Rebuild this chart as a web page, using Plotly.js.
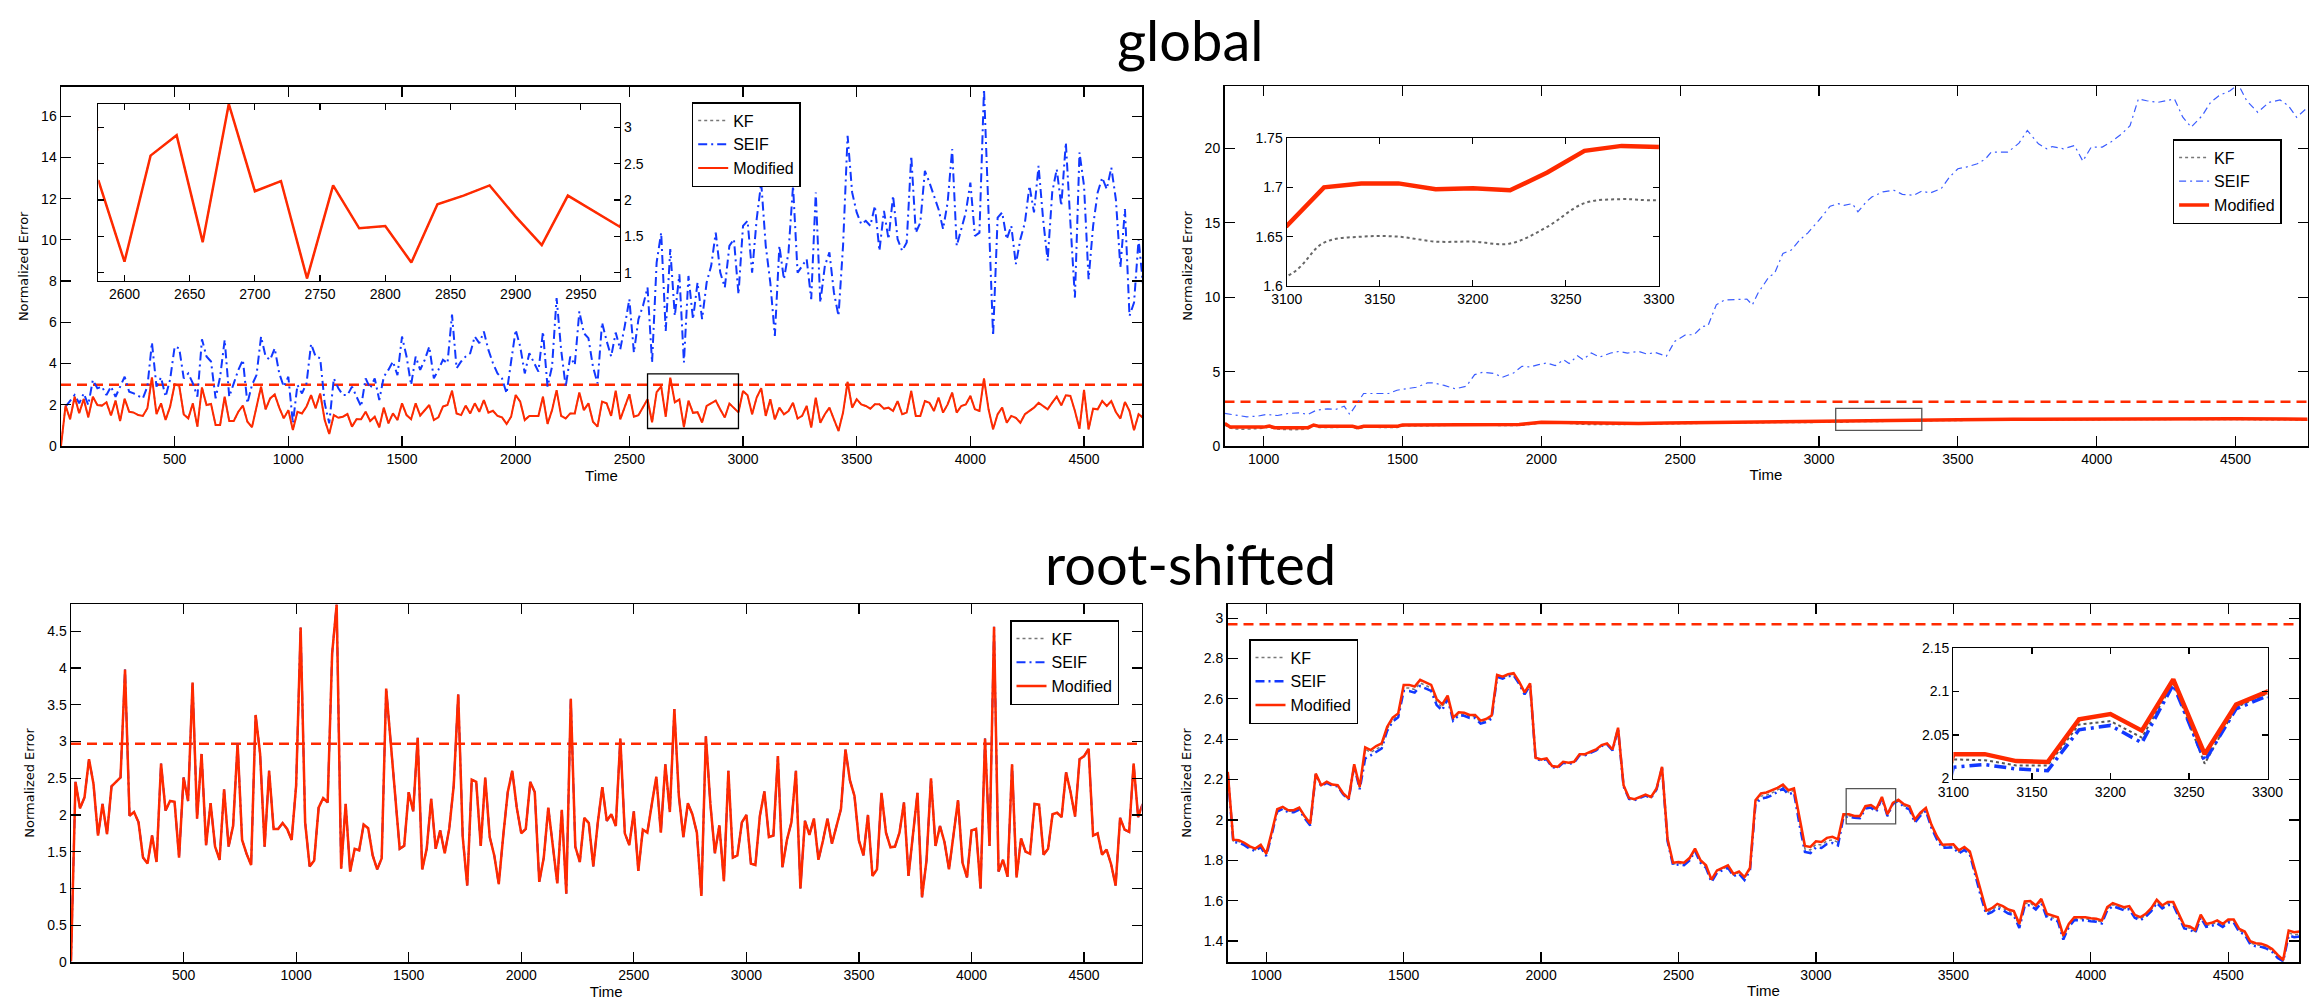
<!DOCTYPE html>
<html>
<head>
<meta charset="utf-8">
<script src="https://cdn.plot.ly/plotly-3.0.1.min.js"></script>
<style>
html,body{margin:0;padding:0;background:#fff;}
#chart{width:2322px;height:1001px;}
</style>
</head>
<body>
<div id="chart"></div>
<script>
// ---------------- DATA ----------------
const seriesNames = ['KF', 'SEIF', 'Modified'];
const sectionTitles = ['global', 'root-shifted'];
const threshold = 2.97;

// Panel 1: global, Time 0..4760 every 20 (null = not readable)
const mod1 = [
0,1.96,1.30,2.39,1.59,2.28,1.39,2.39,1.99,1.96,
2.12,1.48,2.20,1.21,2.29,1.66,1.62,1.50,1.46,1.83,
3.33,1.55,2.07,1.26,1.91,2.99,2.92,1.53,1.34,2.07,
0.94,2.84,1.99,2.04,1.02,1.02,2.39,1.21,1.21,1.66,
1.96,1.18,0.91,1.91,2.88,1.78,2.31,2.50,1.86,1.34,
1.74,0.78,1.66,1.58,1.91,2.47,1.83,2.55,1.26,0.58,
1.50,1.37,1.42,1.55,0.94,1.30,1.30,1.66,1.21,1.42,
0.91,1.86,1.10,1.58,1.26,2.07,1.50,1.30,2.07,1.48,
1.71,1.99,1.26,1.39,1.91,1.99,2.68,1.58,1.50,1.96,
1.58,2.07,1.66,2.23,1.62,1.71,1.46,1.39,1.07,1.42,
2.47,2.15,1.26,1.46,1.46,1.46,2.39,1.07,1.74,2.71,
1.46,1.34,1.58,1.58,2.60,1.74,2.07,1.18,0.94,2.15,
2.07,1.46,2.68,
1.29,null,2.51,1.42,1.49,1.86,2.27,1.15,2.61,2.89,
1.42,3.32,2.12,2.26,0.92,2.20,1.61,1.64,1.14,1.94,
2.06,2.20,1.77,1.38,2.06,1.85,1.63,2.67,2.46,1.54,
2.35,2.80,1.46,2.27,1.29,1.86,1.54,1.70,2.10,1.33,
1.46,1.94,0.89,2.35,1.13,1.54,1.86,1.29,0.73,1.62,
3.11,1.86,2.27,2.02,1.94,1.81,2.02,2.02,1.81,1.86,
1.70,2.18,1.54,1.62,2.67,1.46,1.46,2.18,2.10,1.70,
2.35,1.62,2.02,2.59,1.62,1.94,2.02,2.43,1.78,1.70,
3.28,1.78,0.81,1.54,1.86,1.13,1.46,1.37,1.13,1.54,
1.70,1.86,2.10,1.94,1.78,2.10,2.39,1.97,2.46,2.43,
1.70,0.84,2.72,0.81,1.81,1.78,2.18,1.94,2.18,1.65,
1.33,2.14,1.70,0.76,1.54,1.37];
const kf1 = mod1; // KF coincides with Modified at this scale
// SEIF, Time 20..4760 every 20
const seif1 = [
1.91,null,2.47,2.07,2.55,1.99,3.20,2.80,2.88,2.47,
2.88,2.39,2.88,3.36,2.63,2.55,null,2.31,2.88,5.02,
2.88,3.33,2.39,3.23,4.82,4.74,3.28,3.52,3.04,2.39,
5.18,4.34,4.10,2.31,3.36,5.15,2.39,3.04,3.69,4.18,
2.07,2.96,3.44,5.31,4.34,4.18,4.74,3.52,2.88,3.36,
1.10,2.96,2.55,3.04,4.95,4.34,4.26,2.07,1.10,3.28,
2.80,2.47,2.47,2.88,2.39,1.91,3.28,2.80,3.28,2.23,
3.36,3.69,4.10,3.44,5.31,4.34,2.96,4.34,3.69,4.18,
4.82,3.28,3.69,4.18,4.02,6.37,3.77,4.10,4.34,4.50,
5.31,4.99,5.55,4.66,4.02,3.52,3.28,2.55,4.10,5.63,
4.82,3.52,4.50,4.02,3.61,5.55,2.88,3.85,7.18,4.66,
2.88,4.34,3.93,6.53,5.47,5.23,3.85,3.04,5.99,5.10,
4.34,5.50,
4.69,5.83,7.12,4.53,6.15,6.80,7.69,4.05,8.90,10.35,
5.58,9.55,6.31,8.33,4.05,8.25,6.15,7.93,6.15,7.93,
8.74,10.35,8.41,7.69,9.71,10.03,7.36,10.68,10.92,8.41,
11.00,12.78,9.71,7.93,5.34,9.71,8.09,9.39,12.62,8.41,
8.74,9.06,7.12,12.30,6.96,8.74,9.39,7.44,6.31,9.71,
15.05,12.30,11.33,10.76,10.92,10.68,11.65,9.47,11.41,10.03,
12.14,10.03,9.47,9.87,14.08,10.35,10.84,13.35,12.78,12.14,
11.49,10.52,11.81,14.40,9.71,10.52,11.33,12.78,10.19,10.35,
17.31,11.33,5.34,11.08,11.33,10.03,10.68,8.82,10.03,10.84,
12.62,11.33,13.59,11.00,8.98,12.30,13.43,11.65,14.72,10.84,
7.20,14.24,12.62,8.09,10.68,12.30,13.02,12.46,13.51,11.97,
8.66,11.49,6.31,6.96,10.03,7.77];

// Panel 2: global (right)
const mod2T = [860,880,1000,1020,1040,1160,1180,1200,1320,1340,1360,1480,1500,1600,1750,1920,2000,2100,2150,2350,2450,2600,2800,3000,
  3100,3120,3140,3160,3180,3200,3220,3240,3260,3280,3300,3500,3700,3900,4100,4300,4500,4760];
const mod2 = [1.52,1.27,1.27,1.34,1.23,1.23,1.41,1.32,1.32,1.23,1.32,1.32,1.41,1.43,1.47,1.45,1.60,1.58,1.52,1.52,1.54,1.58,1.62,1.64,
  1.661,1.700,1.704,1.704,1.698,1.699,1.697,1.715,1.737,1.742,1.741,1.77,1.79,1.81,1.83,1.84,1.83,1.80];
const kf2 = [1.45,1.20,1.20,1.27,1.16,1.16,1.34,1.25,1.25,1.16,1.25,1.25,1.34,1.37,1.41,1.39,1.53,1.52,1.46,1.46,1.49,1.53,1.57,1.59,
  1.610,1.644,1.650,1.650,1.645,1.645,1.643,1.660,1.684,1.688,1.687,1.72,1.74,1.76,1.78,1.79,1.78,1.75];
const seif2T = [860,900,940,980,1010,1050,1090,1130,1160,1190,1230,1260,1290,1310,1340,1360,1400,1450,1480,1510,
  1550,1590,1610,1650,1690,1730,1760,1790,1830,1860,1900,1930,1960,1990,2020,2050,2080,2100,2130,2150,
  2180,2210,2250,2280,2310,2350,2380,2410,2450,2480,2520,2550,2580,2600,2630,2660,2700,2740,2760,2780,
  2820,2840,2870,2900,2930,2960,3000,3040,3070,3090,3120,3140,3170,3190,3230,3270,3300,3340,3370,3400,
  3440,3470,3500,3530,3570,3600,3620,3650,3680,3720,3750,3790,3820,3840,3880,3920,3950,3980,4020,4050,
  4090,4120,4150,4180,4220,4250,4280,4310,4340,4380,4410,4440,4480,4510,4540,4580,4620,4660,4690,4720,4760];
const seif2 = [2.19,2.05,1.96,2.01,2.12,2.05,2.19,2.23,2.12,2.41,2.50,2.46,2.68,2.12,3.01,3.53,3.53,3.53,3.75,3.84,
  3.95,4.24,4.24,4.08,3.84,4.02,4.80,4.96,4.87,4.62,4.91,5.36,5.31,5.47,5.58,5.40,5.80,5.54,6.07,5.80,
  6.25,5.98,6.25,6.36,6.25,6.36,6.18,6.29,6.03,7.03,7.48,7.48,8.04,8.08,9.49,9.82,9.87,9.87,9.49,10.27,
  11.38,11.61,12.95,13.17,13.84,14.33,15.18,16.12,16.29,16.18,16.29,15.74,16.41,16.74,17.08,17.19,16.92,16.85,17.14,17.01,
  17.30,18.08,18.64,18.75,18.97,19.31,19.75,19.75,19.75,20.36,21.21,20.31,19.98,20.13,19.98,20.20,19.15,20.09,20.09,20.42,
  20.98,21.54,23.33,23.21,23.10,23.21,23.33,22.10,21.43,22.21,23.10,23.55,23.88,24.30,23.21,22.43,23.10,23.26,22.88,22.10,22.77];

// Panel 3: root-shifted, Time 0..4760 every 20
const mod3 = [
0.01,2.45,2.09,2.24,2.76,2.42,1.72,2.15,1.74,2.39,
2.45,2.51,3.98,1.99,2.04,1.90,1.42,1.34,1.72,1.36,
2.70,2.06,2.19,2.18,1.42,2.51,2.19,3.80,1.95,2.83,
1.59,2.16,1.57,1.39,2.35,1.57,1.85,2.97,1.66,1.47,
1.32,3.36,2.83,1.57,2.60,1.81,1.81,1.89,1.81,1.66,
2.40,4.55,1.90,1.30,1.38,2.10,2.23,2.17,4.20,4.86,
1.27,2.15,1.23,1.54,1.52,1.87,1.82,1.45,1.26,1.41,
3.72,2.95,2.24,1.54,1.58,2.31,2.05,3.05,1.26,1.54,
2.22,1.54,1.79,1.48,1.81,2.40,3.64,1.70,1.04,2.48,
2.45,1.58,2.51,1.70,1.45,1.06,1.72,2.31,2.60,2.10,
1.75,1.81,2.45,2.31,1.09,1.42,2.10,1.60,1.07,2.07,
0.93,3.58,1.57,1.36,1.96,1.89,1.30,1.90,2.38,1.92,
2.01,
1.85,3.04,1.75,1.59,2.05,1.24,1.80,1.76,2.15,2.52,
1.76,2.69,2.04,3.44,2.26,1.70,2.16,2.01,1.76,0.90,
3.07,2.15,1.48,1.86,1.10,2.60,1.42,1.45,1.90,2.00,
1.34,1.32,1.99,2.32,1.70,1.72,2.80,1.29,1.66,1.90,
2.60,1.00,1.92,1.73,1.95,1.39,1.65,1.95,1.61,1.85,
2.08,2.89,2.47,2.26,1.65,1.45,2.00,1.17,1.26,2.30,
1.76,1.56,1.57,1.76,2.17,1.17,1.72,2.30,0.88,1.38,
2.50,1.58,1.85,1.63,1.26,1.76,2.20,1.35,1.15,1.79,
1.81,1.00,3.04,1.58,4.56,1.23,1.39,1.16,2.69,1.15,
1.68,1.50,1.47,2.15,2.14,1.46,1.54,2.01,2.03,1.97,
2.58,2.31,1.98,2.76,2.80,2.90,1.72,1.75,1.46,1.53,
1.33,1.04,1.96,1.80,1.77,2.70,1.97,2.15];
const seif3 = mod3; // SEIF and KF coincide with Modified here
const kf3 = mod3;

// Panel 4: root-shifted (right), Time 860..4760 every 20
const mod4 = [
2.238,1.902,1.899,1.887,1.869,1.858,1.877,1.833,1.940,2.053,
2.065,2.048,2.048,2.061,2.018,1.982,2.230,2.172,2.189,2.175,
2.172,2.131,2.106,2.276,2.164,2.359,2.346,2.366,2.379,2.462,
2.507,2.528,2.669,2.669,2.661,2.694,2.682,2.669,2.599,2.573,
2.616,2.507,2.533,2.531,2.520,2.520,2.492,2.500,2.517,2.719,
2.710,2.722,2.727,2.685,2.632,2.677,2.308,2.300,2.305,2.267,
2.263,2.288,2.283,2.288,2.326,2.326,2.338,2.349,2.371,2.379,
2.349,2.457,2.172,2.109,2.103,2.114,2.126,2.114,2.156,2.263,
1.907,1.788,1.791,1.788,1.811,1.858,1.800,1.775,1.704,1.750,
1.762,1.775,1.733,1.745,1.717,1.762,2.098,2.131,2.136,2.147,
2.159,2.175,2.147,2.156,2.007,1.871,1.866,1.894,1.891,1.911,
1.916,1.904,2.028,2.028,2.020,2.019,2.068,2.074,2.055,2.114,
2.028,2.085,2.100,2.078,2.068,2.002,2.036,2.060,1.977,1.919,
1.877,1.879,1.879,1.849,1.866,1.844,1.742,1.642,1.551,1.563,
1.584,1.573,1.556,1.548,1.485,1.596,1.598,1.576,1.609,1.535,
1.526,1.518,1.427,1.485,1.518,1.518,1.518,1.513,1.510,1.502,
1.568,1.588,1.576,1.568,1.573,1.530,1.518,1.535,1.563,1.604,
1.576,1.593,1.593,1.535,1.477,1.472,1.455,1.531,1.485,1.490,
1.502,1.485,1.507,1.507,1.460,1.447,1.399,1.389,1.386,1.377,
1.361,1.331,1.306,1.452,1.444,1.447];
const seif4 = [
2.226,1.890,1.887,1.875,1.857,1.846,1.865,1.821,1.928,2.041,
2.055,2.038,2.038,2.051,2.008,1.972,2.225,2.167,2.184,2.170,
2.167,2.126,2.101,2.266,2.152,2.305,2.320,2.338,2.354,2.442,
2.487,2.508,2.639,2.639,2.631,2.664,2.652,2.639,2.569,2.543,
2.601,2.492,2.518,2.516,2.505,2.505,2.477,2.485,2.502,2.709,
2.700,2.712,2.717,2.675,2.622,2.667,2.303,2.295,2.300,2.262,
2.258,2.283,2.278,2.283,2.321,2.321,2.333,2.344,2.366,2.374,
2.344,2.452,2.167,2.104,2.098,2.109,2.121,2.109,2.151,2.258,
1.895,1.776,1.779,1.776,1.799,1.846,1.788,1.763,1.692,1.738,
1.750,1.763,1.721,1.733,1.702,1.750,2.078,2.106,2.111,2.122,
2.139,2.155,2.127,2.136,1.977,1.841,1.836,1.864,1.861,1.881,
1.886,1.874,2.013,2.016,2.011,2.009,2.056,2.061,2.041,2.108,
2.020,2.080,2.095,2.063,2.053,1.987,2.021,2.045,1.962,1.904,
1.862,1.864,1.864,1.834,1.851,1.829,1.722,1.622,1.531,1.543,
1.564,1.553,1.536,1.528,1.465,1.576,1.578,1.556,1.589,1.515,
1.506,1.498,1.407,1.470,1.503,1.503,1.503,1.498,1.495,1.487,
1.553,1.573,1.561,1.553,1.558,1.515,1.503,1.520,1.548,1.589,
1.561,1.578,1.578,1.520,1.462,1.457,1.440,1.516,1.470,1.475,
1.487,1.470,1.492,1.492,1.445,1.432,1.384,1.374,1.371,1.362,
1.346,1.316,1.300,1.427,1.419,1.422];
const kf4 = [
2.232,1.896,1.893,1.881,1.863,1.852,1.871,1.827,1.934,2.047,
2.060,2.043,2.043,2.056,2.013,1.977,2.228,2.170,2.187,2.173,
2.170,2.129,2.104,2.271,2.158,2.350,2.335,2.352,2.366,2.452,
2.497,2.518,2.654,2.654,2.646,2.679,2.667,2.654,2.584,2.558,
2.608,2.500,2.525,2.523,2.512,2.512,2.485,2.492,2.510,2.714,
2.705,2.717,2.722,2.680,2.627,2.672,2.305,2.297,2.302,2.264,
2.260,2.285,2.280,2.285,2.323,2.323,2.335,2.346,2.368,2.376,
2.346,2.454,2.169,2.106,2.100,2.111,2.123,2.111,2.153,2.260,
1.901,1.782,1.785,1.782,1.805,1.852,1.794,1.769,1.698,1.744,
1.756,1.769,1.727,1.739,1.710,1.756,2.088,2.118,2.123,2.134,
2.149,2.165,2.137,2.146,1.992,1.856,1.851,1.879,1.876,1.896,
1.901,1.889,2.022,2.021,2.015,2.015,2.062,2.066,2.047,2.110,
2.017,2.082,2.098,2.070,2.060,1.994,2.028,2.052,1.969,1.911,
1.869,1.871,1.871,1.841,1.858,1.836,1.732,1.632,1.541,1.553,
1.574,1.563,1.546,1.538,1.475,1.586,1.588,1.566,1.599,1.525,
1.516,1.508,1.417,1.477,1.510,1.510,1.510,1.505,1.502,1.494,
1.560,1.580,1.568,1.560,1.565,1.522,1.510,1.527,1.555,1.596,
1.568,1.585,1.585,1.527,1.469,1.464,1.447,1.523,1.477,1.482,
1.494,1.477,1.499,1.499,1.452,1.439,1.391,1.381,1.378,1.369,
1.353,1.323,1.303,1.440,1.431,1.434];

// Axis ranges, ticks, zoom boxes
const xRange1 = [0, 4755], yRange1 = [0, 17.43];
const xRange2 = [859, 4759], yRange2 = [0, 24.2];
const xRange3 = [0, 4755], yRange3 = [0, 4.87];
const xRange4 = [859, 4759], yRange4 = [1.296, 3.07];
const xTicks13 = [500,1000,1500,2000,2500,3000,3500,4000,4500];
const xTicks24 = [1000,1500,2000,2500,3000,3500,4000,4500];
const yTicks1 = [0,2,4,6,8,10,12,14,16];
const yTicks2 = [0,5,10,15,20];
const yTicks3 = [0,0.5,1,1.5,2,2.5,3,3.5,4,4.5];
const yTicks4 = [1.4,1.6,1.8,2,2.2,2.4,2.6,2.8,3];
const yTickText4 = ['1.4','1.6','1.8','2','2.2','2.4','2.6','2.8','3'];
const inset1X = [2580, 2980], inset1Y = [0.885, 3.32];
const inset2X = [3100, 3300], inset2Y = [1.6, 1.75];
const inset4X = [3100, 3300], inset4Y = [2.0, 2.15];
const inset1XTicks = [2600,2650,2700,2750,2800,2850,2900,2950];
const inset1YTicks = [1,1.5,2,2.5,3];
const insetXTicks = [3100,3150,3200,3250,3300];
const inset2YTicks = [1.6,1.65,1.7,1.75];
const inset4YTicks = [2,2.05,2.1,2.15];
const box1 = {x:[2580,2980], y:[0.85,3.5]};
const box2 = {x:[3060,3370], y:[1.05,2.53]};
const box4 = {x:[3110,3290], y:[1.98,2.155]};

// ---------------- helpers ----------------
function steps(start, step, n){ const a=[]; for(let i=0;i<n;i++) a.push(start+i*step); return a; }
const t1 = steps(0,20,mod1.length);
const t1s = steps(20,20,seif1.length);
const t3 = steps(0,20,mod3.length);
const t4 = steps(860,20,mod4.length);

const W = 2322, H = 1001;
const fx = p => p / W;
const fy = p => 1 - p / H;

const RED = '#ff2a00', BLUE = '#1238ff', GRAY = '#777777';
const FONT = 'Liberation Sans, Arial, Helvetica, sans-serif';

function line(x, y, name, xa, ya, opt){
  const st = {
    KF: {color: GRAY, dash: 'dot'},
    SEIF: {color: BLUE, dash: '9px,4px,2px,4px'},
    Modified: {color: RED, dash: 'solid'}
  }[name];
  return {
    type: 'scatter', mode: 'lines', x: x, y: y, name: name,
    xaxis: xa, yaxis: ya, connectgaps: true, hoverinfo: 'skip',
    line: {color: opt.color || st.color, dash: opt.dash || st.dash, width: opt.width, shape: opt.shape || 'linear'},
    showlegend: !!opt.legend, legend: opt.legend || 'legend'
  };
}

const traces = [
  // Panel 1 main
  line(t1, kf1, 'KF', 'x', 'y', {width:1.5, legend:'legend'}),
  line(t1s, seif1, 'SEIF', 'x', 'y', {width:2, legend:'legend'}),
  line(t1, mod1, 'Modified', 'x', 'y', {width:2, legend:'legend'}),
  // Panel 2 main
  line(mod2T, kf2, 'KF', 'x2', 'y2', {width:1.5, shape:'spline', legend:'legend2'}),
  line(seif2T, seif2, 'SEIF', 'x2', 'y2', {width:1.2, color:'#3a5cff', dash:'7px,4px,2px,4px', legend:'legend2'}),
  line(mod2T, mod2, 'Modified', 'x2', 'y2', {width:3.5, legend:'legend2'}),
  // Panel 3 main
  line(t3, kf3, 'KF', 'x3', 'y3', {width:1.5, legend:'legend3'}),
  line(t3, seif3, 'SEIF', 'x3', 'y3', {width:2, legend:'legend3'}),
  line(t3, mod3, 'Modified', 'x3', 'y3', {width:2.5, legend:'legend3'}),
  // Panel 4 main
  line(t4, kf4, 'KF', 'x4', 'y4', {width:1.5, legend:'legend4'}),
  line(t4, seif4, 'SEIF', 'x4', 'y4', {width:2.5, legend:'legend4'}),
  line(t4, mod4, 'Modified', 'x4', 'y4', {width:2.5, legend:'legend4'}),
  // Inset 1
  line(t1, kf1, 'KF', 'x5', 'y5', {width:1.5}),
  line(t1s, seif1, 'SEIF', 'x5', 'y5', {width:2}),
  line(t1, mod1, 'Modified', 'x5', 'y5', {width:2.5}),
  // Inset 2
  line(mod2T, kf2, 'KF', 'x6', 'y6', {width:2, shape:'spline', color:'#666'}),
  line(mod2T, mod2, 'Modified', 'x6', 'y6', {width:4.5}),
  // Inset 4
  line(t4, kf4, 'KF', 'x7', 'y7', {width:2, color:'#555'}),
  line(t4, seif4, 'SEIF', 'x7', 'y7', {width:3.5, dash:'12px,5px,3px,5px'}),
  line(t4, mod4, 'Modified', 'x7', 'y7', {width:4.5})
];

const tickFont = {family: FONT, size: 14, color: '#000'};
function ax(extra){
  return Object.assign({
    showline: true, linecolor: '#000', linewidth: 1.5, mirror: 'allticks',
    ticks: 'inside', ticklen: 10, tickwidth: 1.2, tickcolor: '#000',
    showgrid: false, zeroline: false, tickfont: tickFont, fixedrange: true
  }, extra);
}
function insetAx(extra){
  return ax(Object.assign({ticklen: 6, linewidth: 1.3, tickfont: {family: FONT, size: 14, color: '#000'}}, extra));
}
const timeTitle = {text: 'Time', font: {family: FONT, size: 15, color: '#000'}, standoff: 3};
const errTitle = {text: 'Normalized Error', font: {family: 'DejaVu Sans, sans-serif', size: 13, color: '#000'}, standoff: 9};

const legendBase = {
  bgcolor: '#fff', bordercolor: '#000', borderwidth: 1.5,
  font: {family: FONT, size: 16, color: '#000'},
  xanchor: 'left', yanchor: 'top', traceorder: 'normal', tracegroupgap: 0
};

function hline(xref, yref){
  return {type: 'line', xref: xref + ' domain', yref: yref, x0: 0, x1: 1, y0: threshold, y1: threshold,
          line: {color: RED, width: 2.5, dash: '10px,6px'}, layer: 'below'};
}
function rect(b, xref, yref, color){
  return {type: 'rect', xref: xref, yref: yref, x0: b.x[0], x1: b.x[1], y0: b.y[0], y1: b.y[1],
          line: {color: color, width: 1.3}, fillcolor: 'rgba(0,0,0,0)', layer: 'above'};
}

const layout = {
  width: W, height: H,
  margin: {l: 0, r: 0, t: 0, b: 0, pad: 0},
  paper_bgcolor: '#fff', plot_bgcolor: '#fff',
  font: {family: FONT, color: '#000'},
  showlegend: true,
  // Panel 1
  xaxis: ax({domain: [fx(61), fx(1142)], range: xRange1, tickvals: xTicks13, anchor: 'y', title: timeTitle}),
  yaxis: ax({domain: [fy(446), fy(86.7)], range: yRange1, tickvals: yTicks1, anchor: 'x', title: errTitle}),
  // Panel 2
  xaxis2: ax({domain: [fx(1224.5), fx(2307.5)], range: xRange2, tickvals: xTicks24, anchor: 'y2', title: timeTitle}),
  yaxis2: ax({domain: [fy(446), fy(86)], range: yRange2, tickvals: yTicks2, anchor: 'x2', title: errTitle}),
  // Panel 3
  xaxis3: ax({domain: [fx(71), fx(1141.5)], range: xRange3, tickvals: xTicks13, anchor: 'y3', title: timeTitle}),
  yaxis3: ax({domain: [fy(962), fy(604)], range: yRange3, tickvals: yTicks3, anchor: 'x3', title: errTitle}),
  // Panel 4
  xaxis4: ax({domain: [fx(1227.5), fx(2299.4)], range: xRange4, tickvals: xTicks24, anchor: 'y4', title: timeTitle}),
  yaxis4: ax({domain: [fy(962), fy(604)], range: yRange4, tickvals: yTicks4, ticktext: yTickText4, anchor: 'x4', title: errTitle}),
  // Inset 1
  xaxis5: insetAx({domain: [fx(98.4), fx(620)], range: inset1X, tickvals: inset1XTicks, anchor: 'y5'}),
  yaxis5: insetAx({domain: [fy(281), fy(104)], range: inset1Y, tickvals: inset1YTicks, anchor: 'x5', side: 'right'}),
  // Inset 2
  xaxis6: insetAx({domain: [fx(1286.8), fx(1658.9)], range: inset2X, tickvals: insetXTicks, anchor: 'y6'}),
  yaxis6: insetAx({domain: [fy(286), fy(138)], range: inset2Y, tickvals: inset2YTicks, anchor: 'x6'}),
  // Inset 4
  xaxis7: insetAx({domain: [fx(1953.4), fx(2267.5)], range: inset4X, tickvals: insetXTicks, anchor: 'y7'}),
  yaxis7: insetAx({domain: [fy(778.5), fy(648)], range: inset4Y, tickvals: inset4YTicks, anchor: 'x7'}),
  legend: Object.assign({}, legendBase, {x: fx(691.7), y: fy(102)}),
  legend2: Object.assign({}, legendBase, {x: fx(2172.6), y: fy(139)}),
  legend3: Object.assign({}, legendBase, {x: fx(1010), y: fy(620)}),
  legend4: Object.assign({}, legendBase, {x: fx(1249), y: fy(639)}),
  shapes: [
    hline('x', 'y'), hline('x2', 'y2'), hline('x3', 'y3'), hline('x4', 'y4'), hline('x5', 'y5'),
    rect(box1, 'x', 'y', '#000'), rect(box2, 'x2', 'y2', '#555'), rect(box4, 'x4', 'y4', '#555')
  ],
  annotations: [
    {text: sectionTitles[0], xref: 'paper', yref: 'paper', x: fx(1190), y: fy(40), xanchor: 'center', yanchor: 'middle',
     showarrow: false, font: {family: 'Lato, sans-serif', size: 56, color: '#000'}},
    {text: sectionTitles[1], xref: 'paper', yref: 'paper', x: fx(1190), y: fy(563), xanchor: 'center', yanchor: 'middle',
     showarrow: false, font: {family: 'Lato, sans-serif', size: 56, color: '#000'}}
  ]
};

Plotly.newPlot('chart', traces, layout, {displayModeBar: false, staticPlot: true});
</script>
</body>
</html>
